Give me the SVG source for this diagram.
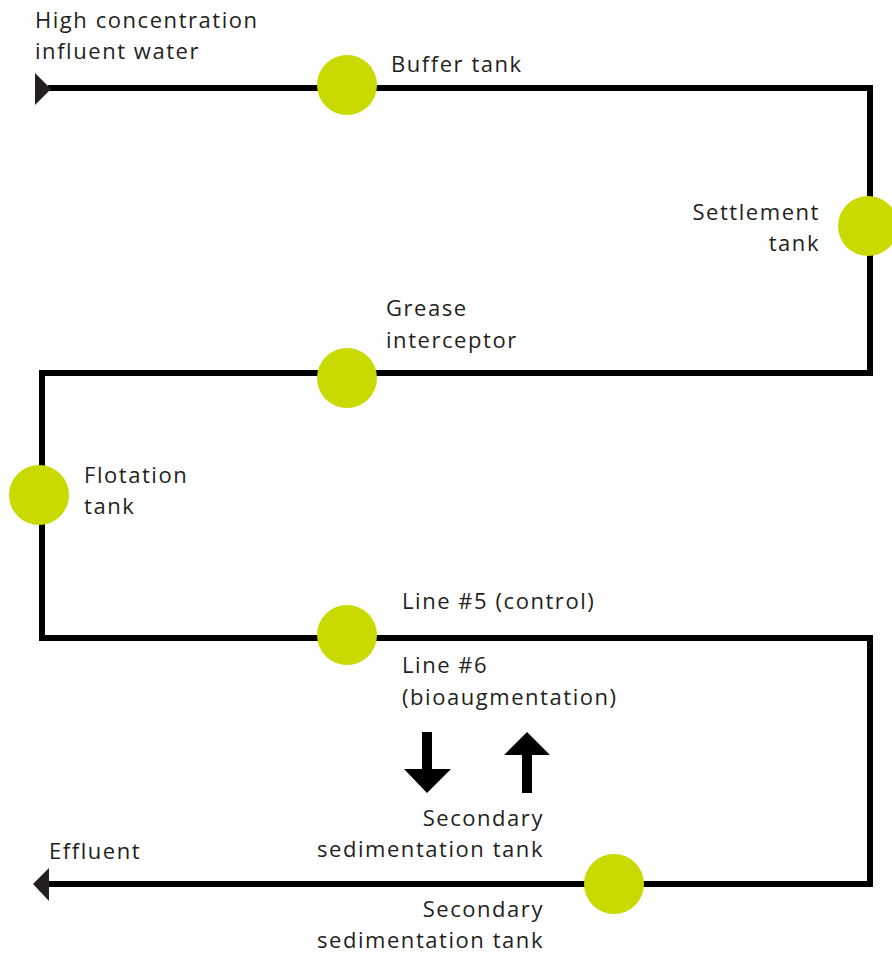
<svg xmlns="http://www.w3.org/2000/svg" width="892" height="953" viewBox="0 0 892 953">
<style>
.t{font-family:"Open Sans","Noto Sans",sans-serif;font-size:22px;letter-spacing:1.55px;fill:#231f20}
.r{text-anchor:end}
.n{fill:#c8da00}
.ln{fill:none;stroke:#000;stroke-width:6;stroke-linejoin:miter}
</style>
<rect width="892" height="953" fill="#fff"/>
<g id="connectors">
<path class="ln" d="M 48 88 H 870 V 373 H 42 V 638 H 870 V 884 H 46"/>
<polygon points="35,73 51,89 35,105" fill="#231f20"/>
<polygon points="33,884 49,868 49,901" fill="#231f20"/>
<polygon points="422,732 432,732 432,769 451,769 427,793 404,769 422,769" fill="#000"/>
<polygon points="522,793 532,793 532,755 550,755 527,732 504,755 522,755" fill="#000"/>
</g>
<g id="influent"><text class="t" x="35" y="28">High concentration</text><text class="t" x="35" y="59">influent water</text></g>
<g id="buffer"><circle class="n" cx="347" cy="85" r="30"/><text class="t" x="391" y="72">Buffer tank</text></g>
<g id="settlement"><circle class="n" cx="868" cy="226" r="30"/><text class="t r" x="820" y="220">Settlement</text><text class="t r" x="820" y="251">tank</text></g>
<g id="grease"><circle class="n" cx="347" cy="378" r="30"/><text class="t" x="386" y="316">Grease</text><text class="t" x="386" y="348">interceptor</text></g>
<g id="flotation"><circle class="n" cx="39" cy="495" r="30"/><text class="t" x="84" y="483">Flotation</text><text class="t" x="84" y="514">tank</text></g>
<g id="lines"><circle class="n" cx="347" cy="635" r="30"/><text class="t" x="402" y="609">Line #5 (control)</text><text class="t" x="402" y="673">Line #6</text><text class="t" x="402" y="705">(bioaugmentation)</text></g>
<g id="sec-upper"><text class="t r" x="544" y="826">Secondary</text><text class="t r" x="544" y="857">sedimentation tank</text></g>
<g id="secondary"><circle class="n" cx="614" cy="884" r="30"/><text class="t r" x="544" y="917">Secondary</text><text class="t r" x="544" y="948">sedimentation tank</text></g>
<g id="effluent"><text class="t" x="49" y="859">Effluent</text></g>
</svg>
